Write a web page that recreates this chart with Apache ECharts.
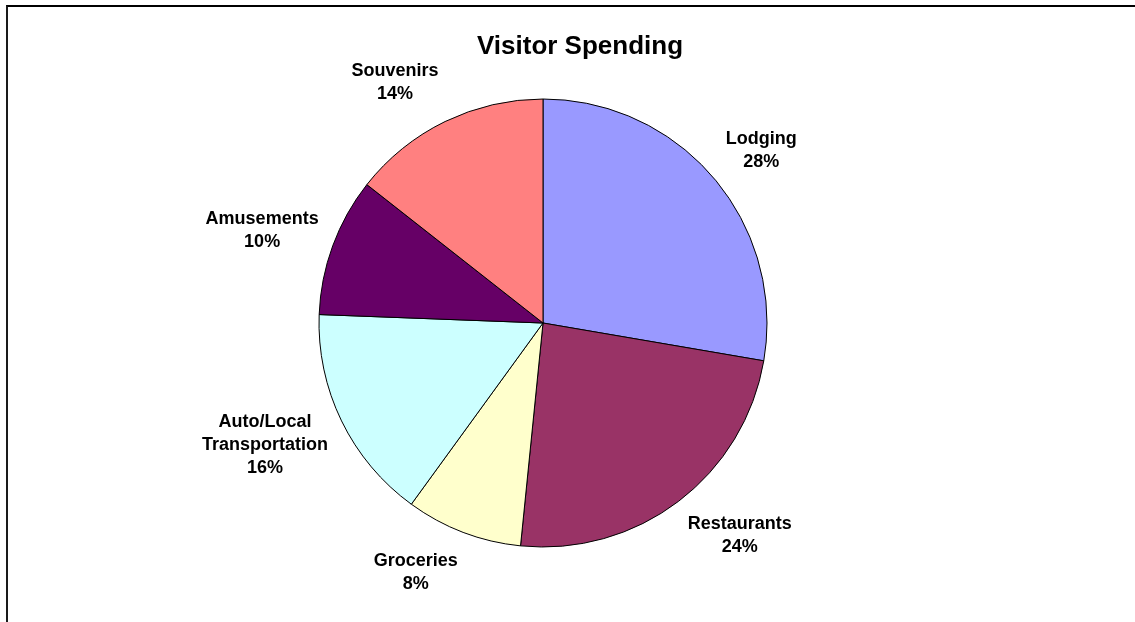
<!DOCTYPE html>
<html>
<head>
<meta charset="utf-8">
<script src="https://cdn.jsdelivr.net/npm/echarts@6/dist/echarts.min.js"></script>
<style>
  html, body { margin: 0; padding: 0; background: #fff; }
  #chart { width: 1135px; height: 622px; }
  #frame { position: absolute; left: 6px; top: 5px; width: 1300px; height: 800px;
           border-left: 2px solid #1a1a1a; border-top: 2px solid #000; pointer-events: none; }
</style>
</head>
<body>
<div id="chart"></div>
<div id="frame"></div>
<script>
// Data (slice sizes; labels show rounded percentages)
const categories = ['Lodging', 'Restaurants', 'Groceries', 'Auto/Local\nTransportation', 'Amusements', 'Souvenirs'];
const values = [27.7, 23.9, 8.4, 15.6, 10.0, 14.4];
const colors = ['#9999FF', '#993366', '#FFFFCC', '#CCFFFF', '#660066', '#FF8080'];

const CX = 543, CY = 323, R = 224, GAP_X = 15, GAP_Y = 20;
const total = values.reduce((a, b) => a + b, 0);

const chart = echarts.init(document.getElementById('chart'), null, { renderer: 'canvas' });
chart.setOption({
  backgroundColor: '#fff',
  animation: false,
  title: {
    text: 'Visitor Spending',
    left: 575,
    textAlign: 'center',
    top: 29,
    textStyle: { fontFamily: 'Liberation Sans, Arial, sans-serif', fontWeight: 'bold', fontSize: 26, color: '#000' }
  },
  series: [{
    type: 'pie',
    center: [CX, CY],
    radius: R,
    startAngle: 90,
    clockwise: true,
    percentPrecision: 0,
    data: categories.map((c, i) => ({ name: c, value: values[i], itemStyle: { color: colors[i] } })),
    itemStyle: { borderColor: '#000', borderWidth: 1 },
    label: {
      show: true,
      position: 'outside',
      formatter: '{b}\n{d}%',
      fontFamily: 'Liberation Sans, Arial, sans-serif',
      fontWeight: 'bold',
      fontSize: 18,
      lineHeight: 23,
      color: '#000',
      align: 'center'
    },
    labelLine: { show: false },
    emphasis: { disabled: true },
    labelLayout: function (p) {
      const i = p.dataIndex;
      let cum = 0;
      for (let k = 0; k < i; k++) cum += values[k];
      const mid = (cum + values[i] / 2) / total * Math.PI * 2;
      const dx = Math.sin(mid), dy = -Math.cos(mid);
      const w = p.labelRect.width, h = p.labelRect.height;
      const side = dx >= 0 ? 1 : -1;
      return {
        x: CX + (R + GAP_X) * dx + side * w / 2,
        y: CY + R * dy + dy * (GAP_Y + h / 2),
        align: 'center',
        verticalAlign: 'middle'
      };
    }
  }]
});
</script>
</body>
</html>
